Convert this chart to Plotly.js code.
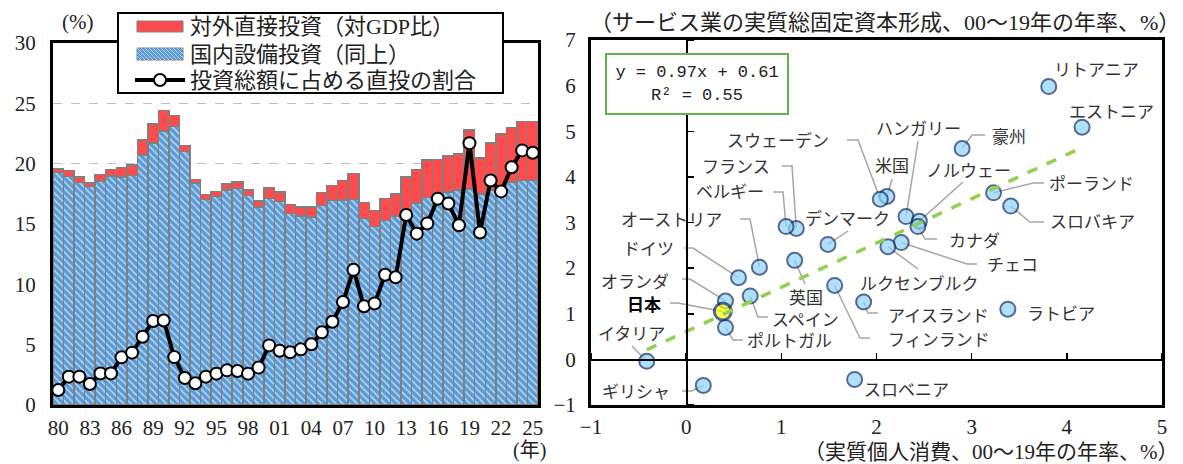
<!DOCTYPE html>
<html>
<head>
<meta charset="utf-8">
<script src="https://cdn.plot.ly/plotly-3.0.1.min.js"></script>
<style>
  html, body { margin: 0; padding: 0; background: #fff; }
  #chart { width: 1183px; height: 464px; }
</style>
</head>
<body>
<div id="chart"></div>
<script>
// ---- Left panel: investment (% of GDP), 1980-2025 ----
const years = [1980,1981,1982,1983,1984,1985,1986,1987,1988,1989,
               1990,1991,1992,1993,1994,1995,1996,1997,1998,1999,
               2000,2001,2002,2003,2004,2005,2006,2007,2008,2009,
               2010,2011,2012,2013,2014,2015,2016,2017,2018,2019,
               2020,2021,2022,2023,2024,2025];
// domestic capital investment (% of GDP)
const domesticInv = [19.25,18.95,18.45,18.10,18.55,18.97,18.90,19.00,20.70,21.70,
                     22.70,23.10,21.00,18.40,17.04,17.26,17.80,17.95,17.35,16.40,
                     17.10,16.85,15.85,15.65,15.60,16.55,16.95,17.00,17.05,15.45,
                     14.80,15.30,15.65,15.95,16.75,17.20,16.90,17.65,17.80,17.90,
                     17.50,17.80,18.10,18.50,18.60,18.60];
// outward direct investment (% of GDP)
const outwardFDI = [0.30,0.49,0.45,0.30,0.55,0.53,0.80,0.90,1.25,1.60,
                    1.70,0.90,0.50,0.30,0.41,0.44,0.50,0.55,0.45,0.50,
                    0.90,0.80,0.75,0.75,0.80,1.05,1.25,1.60,2.15,1.35,
                    1.30,1.80,1.85,2.95,2.75,3.10,3.45,3.00,3.00,4.90,
                    2.95,3.90,4.35,4.50,4.90,4.90];
// share of outward direct investment in total investment (%)
const fdiShare = [1.24,2.35,2.35,1.74,2.62,2.62,3.95,4.34,5.66,6.96,
                  7.00,3.97,2.24,1.80,2.35,2.60,2.87,2.82,2.60,3.10,
                  4.94,4.50,4.37,4.61,5.03,6.02,6.90,8.53,11.20,8.18,
                  8.42,10.80,10.58,15.74,14.20,15.05,17.10,16.70,14.90,21.70,
                  14.30,18.60,17.70,19.70,21.10,20.90];
const yearTicks = [1980,1983,1986,1989,1992,1995,1998,2001,2004,2007,2010,2013,2016,2019,2022,2025];
const yearTickText = ['80','83','86','89','92','95','98','01','04','07','10','13','16','19','22','25'];
const seriesNames = ['対外直接投資（対GDP比）', '国内設備投資（同上）', '投資総額に占める直投の割合'];

// ---- Right panel: services real GFCF growth vs real private consumption growth (2000-19) ----
const countries = ['リトアニア','エストニア','豪州','ポーランド','スロバキア','ハンガリー','米国','スウェーデン',
                   'ノルウェー','カナダ','チェコ','ルクセンブルク','デンマーク','フランス','ベルギー','英国',
                   'オーストリア','ドイツ','スペイン','オランダ','日本','ポルトガル','イタリア','ギリシャ',
                   'スロベニア','ラトビア','アイスランド','フィンランド'];
const consumptionGrowth = [3.81,4.16,2.90,3.23,3.41,2.31,2.11,2.04,
                           2.45,2.435,2.26,2.12,1.49,1.157,1.05,1.14,
                           0.77,0.55,0.673,0.413,0.385,0.413,-0.414,0.18,
                           1.77,3.38,1.865,1.56];
const gfcfGrowth = [5.98,5.09,4.62,3.65,3.36,3.13,3.57,3.51,
                    3.03,2.91,2.56,2.47,2.52,2.87,2.91,2.17,
                    2.02,1.79,1.39,1.28,1.05,0.70,-0.04,-0.57,
                    -0.44,1.10,1.26,1.62];
const fitSlope = 0.97, fitIntercept = 0.61, fitR2 = 0.55;

// ---- page geometry (pixels) ----
const W = 1183, H = 464;
const leftBox  = {x0: 53,  x1: 538,  y0: 43, y1: 405};
const rightBox = {x0: 591, x1: 1162, y0: 40, y1: 405};
const legendBox = {x0: 118, x1: 503, y0: 13, y1: 93};
const xRangeR = [-1, 5], yRangeR = [-1, 7];
const domX = b => [b.x0 / W, b.x1 / W];
const domY = b => [(H - b.y1) / H, (H - b.y0) / H];
const paperX = px => px / W;
const paperY = py => 1 - py / H;
// pixel position inside the right panel -> axis units
const dataX = px => xRangeR[0] + (px - rightBox.x0) / (rightBox.x1 - rightBox.x0) * (xRangeR[1] - xRangeR[0]);
const dataY = py => yRangeR[0] + (rightBox.y1 - py) / (rightBox.y1 - rightBox.y0) * (yRangeR[1] - yRangeR[0]);

const serif = '"Liberation Serif", "Noto Sans CJK JP", serif';
const jp = '"Noto Sans CJK JP", sans-serif';
const ink = '#222';
const colRed = '#ff4b4b', colBlue = '#5b9bd5', colHatch = '#b9d8f3', colEdge = '#7f7f7f';

// label placement for the scatter: text anchor and leader bend points (pixels)
const labelPlacement = {
  'リトアニア':   {x: 1052, y: 69,  a: 'left',   path: []},
  'エストニア':   {x: 1067, y: 111, a: 'left',   path: []},
  '豪州':         {x: 990,  y: 136, a: 'left',   path: [[985,135],[972,135]]},
  'ポーランド':   {x: 1047, y: 183, a: 'left',   path: [[1044,183],[1033,183]]},
  'スロバキア':   {x: 1048, y: 221, a: 'left',   path: [[1044,222],[1030,222]]},
  'ハンガリー':   {x: 918,  y: 128, a: 'center', path: [[918,141]]},
  '米国':         {x: 892,  y: 165, a: 'center', path: [[892,179]]},
  'スウェーデン': {x: 831,  y: 140, a: 'right',  path: [[847,140],[858,140]]},
  'ノルウェー':   {x: 968,  y: 170, a: 'center', path: [[963,182]]},
  'カナダ':       {x: 947,  y: 240, a: 'left',   path: [[937,239],[925,239]]},
  'チェコ':       {x: 985,  y: 263, a: 'left',   path: [[977,264],[967,264]]},
  'ルクセンブルク': {x: 919, y: 282, a: 'center', path: [[918,269]]},
  'デンマーク':   {x: 847,  y: 218, a: 'center', path: [[848,231]]},
  'フランス':     {x: 772,  y: 166, a: 'right',  path: [[782,166],[792,166]]},
  'ベルギー':     {x: 766,  y: 191, a: 'right',  path: [[773,192],[783,192]]},
  '英国':         {x: 806,  y: 296, a: 'center', path: [[805,284]]},
  'オーストリア': {x: 724,  y: 219, a: 'right',  path: [[740,219],[750,219]]},
  'ドイツ':       {x: 676,  y: 248, a: 'right',  path: [[684,248],[693,248]]},
  'スペイン':     {x: 770,  y: 318, a: 'left',   path: [[768,317],[758,317]]},
  'オランダ':     {x: 671,  y: 280, a: 'right',  path: [[682,279],[690,279]]},
  '日本':         {x: 663,  y: 303, a: 'right',  path: [[670,303],[678,303]]},
  'ポルトガル':   {x: 745,  y: 339, a: 'left',   path: [[743,340],[733,340]]},
  'イタリア':     {x: 631,  y: 332, a: 'center', path: [[632,346]]},
  'ギリシャ':     {x: 672,  y: 390, a: 'right',  path: [[682,391],[692,391]]},
  'スロベニア':   {x: 862,  y: 388, a: 'left',   path: []},
  'ラトビア':     {x: 1025, y: 312, a: 'left',   path: []},
  'アイスランド': {x: 886,  y: 314, a: 'left',   path: [[878,313],[868,313]]},
  'フィンランド': {x: 886,  y: 338, a: 'left',   path: [[870,338],[860,338]]}
};

// leader lines: label end -> bend points -> marker centre
const leadX = [], leadY = [];
countries.forEach((c, i) => {
  const p = labelPlacement[c];
  if (!p.path.length) return;
  p.path.forEach(([px, py]) => { leadX.push(dataX(px)); leadY.push(dataY(py)); });
  leadX.push(consumptionGrowth[i]); leadY.push(gfcfGrowth[i]);
  leadX.push(null); leadY.push(null);
});

const isJapan = countries.map(c => c === '日本');
const xMin = Math.min(...consumptionGrowth), xMax = Math.max(...consumptionGrowth);

const traces = [
  // left panel
  {type: 'bar', x: years, y: domesticInv, name: seriesNames[1], xaxis: 'x', yaxis: 'y',
   marker: {color: colBlue, line: {color: colEdge, width: 1.5},
            pattern: {shape: '\\', fillmode: 'replace', bgcolor: colBlue, fgcolor: colHatch, size: 5, solidity: 0.3}},
   hoverinfo: 'skip'},
  {type: 'bar', x: years, y: outwardFDI, name: seriesNames[0], xaxis: 'x', yaxis: 'y',
   marker: {color: colRed, line: {color: colEdge, width: 1.5}},
   hoverinfo: 'skip'},
  {type: 'scatter', mode: 'lines+markers', x: years, y: fdiShare, name: seriesNames[2],
   xaxis: 'x', yaxis: 'y',
   line: {color: '#000', width: 4},
   marker: {symbol: 'circle', size: 12, color: '#fff', line: {color: '#000', width: 2}},
   hoverinfo: 'skip'},
  // right panel
  {type: 'scatter', mode: 'lines', x: leadX, y: leadY, xaxis: 'x2', yaxis: 'y2',
   line: {color: '#a6a6a6', width: 1.5}, hoverinfo: 'skip', connectgaps: false},
  {type: 'scatter', mode: 'markers', x: consumptionGrowth, y: gfcfGrowth, text: countries,
   xaxis: 'x2', yaxis: 'y2',
   marker: {size: isJapan.map(j => j ? 17 : 15),
            color: isJapan.map(j => j ? '#ffff00' : '#8fd3f5'),
            line: {color: '#0c2a66', width: isJapan.map(j => j ? 3 : 2)}},
   hoverinfo: 'text'},
  {type: 'scatter', mode: 'lines', x: [xMin, xMax],
   y: [fitSlope * xMin + fitIntercept, fitSlope * xMax + fitIntercept],
   xaxis: 'x2', yaxis: 'y2', hoverinfo: 'skip',
   line: {color: '#92d050', width: 3.5, dash: 'dash'}},
  // carriers for the axis lines through the origin
  {type: 'scatter', x: [], y: [], xaxis: 'x2', yaxis: 'y3', hoverinfo: 'skip'},
  {type: 'scatter', x: [], y: [], xaxis: 'x3', yaxis: 'y2', hoverinfo: 'skip'}
];

const zeroXPaper = (rightBox.x0 + (0 - xRangeR[0]) / (xRangeR[1] - xRangeR[0]) * (rightBox.x1 - rightBox.x0)) / W;
const zeroYPaper = (H - rightBox.y1 + (0 - yRangeR[0]) / (yRangeR[1] - yRangeR[0]) * (rightBox.y1 - rightBox.y0)) / H;

const tickFont = {family: serif, size: 21, color: ink};

function note(px, py, text, xanchor, size, extra) {
  return Object.assign({xref: 'paper', yref: 'paper', x: paperX(px), y: paperY(py),
    xanchor: xanchor, yanchor: 'middle', text: text, showarrow: false,
    font: {family: serif, size: size, color: ink}}, extra || {});
}
function rectPx(x0, y0, x1, y1, fill, line) {
  return {type: 'rect', xref: 'paper', yref: 'paper', layer: 'above',
          x0: paperX(x0), x1: paperX(x1), y0: paperY(y1), y1: paperY(y0),
          fillcolor: fill, line: line};
}
function linePx(x0, y0, x1, y1, line) {
  return {type: 'line', xref: 'paper', yref: 'paper', layer: 'above',
          x0: paperX(x0), x1: paperX(x1), y0: paperY(y0), y1: paperY(y1), line: line};
}

// ---- hand-built legend in the upper part of the left panel ----
const sw = {x0: 137, x1: 183};
const rowY = [26.5, 54, 80];
const shapes = [
  rectPx(legendBox.x0, legendBox.y0, legendBox.x1, legendBox.y1, '#fff', {color: '#000', width: 2}),
  rectPx(sw.x0, rowY[0] - 5.5, sw.x1, rowY[0] + 5.5, colRed, {color: colEdge, width: 1}),
  rectPx(sw.x0, rowY[1] - 6, sw.x1, rowY[1] + 6, colBlue, {color: colEdge, width: 1})
];
// diagonal hatch inside the domestic-investment swatch
(function () {
  const top = rowY[1] - 6, bot = rowY[1] + 6, h = bot - top;
  for (let xs = sw.x0 - h; xs < sw.x1; xs += 4) {
    let ax = xs, ay = top, bx = xs + h, by = bot;
    if (ax < sw.x0) { ay += sw.x0 - ax; ax = sw.x0; }
    if (bx > sw.x1) { by -= bx - sw.x1; bx = sw.x1; }
    if (bx - ax < 0.5) continue;
    shapes.push(linePx(ax, ay, bx, by, {color: colHatch, width: 1}));
  }
})();
shapes.push(linePx(sw.x0 - 2, rowY[2], sw.x1 + 2, rowY[2], {color: '#000', width: 4}));
shapes.push({type: 'circle', xref: 'paper', yref: 'paper', layer: 'above',
             x0: paperX(154), x1: paperX(166), y0: paperY(rowY[2] + 6), y1: paperY(rowY[2] - 6),
             fillcolor: '#fff', line: {color: '#000', width: 2}});

const annotations = [
  note(77, 22, '(%)', 'center', 21),
  note(529, 450, '(年)', 'center', 20),
  note(1182, 22, '（サービス業の実質総固定資本形成、00～19年の年率、%）', 'right', 22),
  note(1181, 452, '（実質個人消費、00～19年の年率、%）', 'right', 21),
  note(696.5, 83.5,
       'y = ' + fitSlope.toFixed(2) + 'x + ' + fitIntercept.toFixed(2) + '<br>R² = ' + fitR2.toFixed(2),
       'center', 17,
       {align: 'center', width: 176, height: 54, bordercolor: '#63b34c', borderwidth: 2, borderpad: 2,
        bgcolor: '#fff', font: {family: '"Liberation Mono", monospace', size: 17, color: ink}})
];
seriesNames.forEach((s, i) => annotations.push(note(188, rowY[i], s, 'left', 22)));
countries.forEach(c => {
  const p = labelPlacement[c];
  const jpn = c === '日本';
  annotations.push({
    xref: 'x2', yref: 'y2', x: dataX(p.x), y: dataY(p.y), xanchor: p.a, yanchor: 'middle',
    text: jpn ? '<b>' + c + '</b>' : c, showarrow: false,
    font: {family: jp, size: 17, color: jpn ? '#000' : '#333'}
  });
});

const layout = {
  width: W, height: H,
  margin: {l: 0, r: 0, t: 0, b: 0},
  paper_bgcolor: '#fff', plot_bgcolor: '#fff',
  barmode: 'stack', bargap: 0,
  showlegend: false,
  shapes: shapes,
  xaxis: {domain: domX(leftBox), anchor: 'y', range: [1979.5, 2025.5],
          tickvals: yearTicks, ticktext: yearTickText, ticks: '', tickfont: tickFont,
          showline: true, linecolor: '#000', linewidth: 3, mirror: true,
          showgrid: false, zeroline: false, ticklabelstandoff: 2},
  yaxis: {domain: domY(leftBox), anchor: 'x', range: [0, 30], dtick: 5, ticks: '',
          tickfont: tickFont, showline: true, linecolor: '#000', linewidth: 3, mirror: true,
          showgrid: true, gridcolor: '#bfbfbf', gridwidth: 1.5, griddash: 'dash',
          zeroline: false, ticklabelstandoff: 10},
  xaxis2: {domain: domX(rightBox), anchor: 'y2', range: xRangeR, dtick: 1, ticks: '',
           tickfont: tickFont, showline: true, linecolor: '#000', linewidth: 3, mirror: true,
           showgrid: false, zeroline: false, ticklabelstandoff: 1},
  yaxis2: {domain: domY(rightBox), anchor: 'x2', range: yRangeR, dtick: 1, ticks: '',
           tickfont: tickFont, showline: true, linecolor: '#000', linewidth: 3, mirror: true,
           showgrid: false, zeroline: false, ticklabelstandoff: 8},
  // axis lines crossing at the origin, ticks pointing into the quadrant
  yaxis3: {overlaying: 'y2', anchor: 'free', position: zeroXPaper, side: 'right',
           range: yRangeR, dtick: 1, ticks: 'outside', ticklen: 6, tickwidth: 1.5, tickcolor: '#000',
           showticklabels: false, showline: true, linecolor: '#000', linewidth: 1.5,
           showgrid: false, zeroline: false},
  xaxis3: {overlaying: 'x2', anchor: 'free', position: zeroYPaper, side: 'top',
           range: xRangeR, dtick: 1, ticks: 'outside', ticklen: 6, tickwidth: 1.5, tickcolor: '#000',
           showticklabels: false, showline: true, linecolor: '#000', linewidth: 1.5,
           showgrid: false, zeroline: false},
  annotations: annotations
};

Plotly.newPlot('chart', traces, layout, {displayModeBar: false, staticPlot: true});
</script>
</body>
</html>
